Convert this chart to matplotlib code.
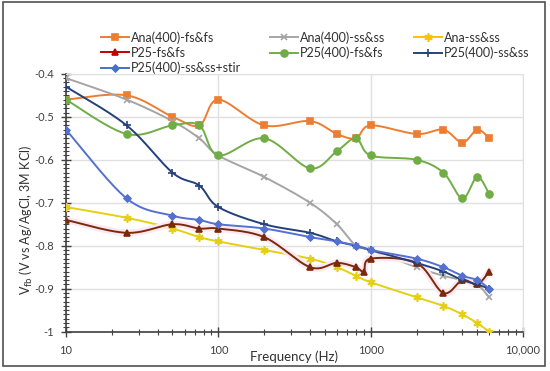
import numpy as np
import matplotlib
import matplotlib.pyplot as plt
from matplotlib.patches import Rectangle
from matplotlib.ticker import FixedLocator, LogLocator, NullFormatter, MultipleLocator
import matplotlib.patheffects as pe

matplotlib.use('Agg')
plt.rcParams['font.family'] = ['Lato', 'DejaVu Sans']

freq = [10, 25, 50, 75, 100, 200, 400, 600, 800, 1000, 2000, 3000, 4000, 5000, 6000]
freq_p25 = [10, 25, 50, 75, 100, 200, 400, 600, 800, 900, 1000, 2000, 3000, 4000, 5000, 6000]

ana400_fs = [-0.46, -0.45, -0.50, -0.52, -0.46, -0.52, -0.51, -0.54, -0.55, -0.52, -0.54, -0.53, -0.56, -0.53, -0.55]
ana400_ss = [-0.41, -0.46, -0.51, -0.55, -0.59, -0.64, -0.70, -0.75, -0.80, -0.81, -0.85, -0.87, -0.88, -0.89, -0.92]
ana_ss = [-0.71, -0.735, -0.76, -0.78, -0.79, -0.81, -0.83, -0.85, -0.87, -0.885, -0.92, -0.94, -0.96, -0.98, -1.0]
p25_fs = [-0.74, -0.77, -0.75, -0.76, -0.76, -0.78, -0.85, -0.84, -0.85, -0.86, -0.83, -0.84, -0.91, -0.88, -0.89, -0.86]
p25_400_fs = [-0.46, -0.54, -0.52, -0.52, -0.59, -0.55, -0.62, -0.58, -0.55, -0.59, -0.60, -0.63, -0.69, -0.64, -0.68]
p25_400_ss = [-0.43, -0.52, -0.63, -0.66, -0.71, -0.75, -0.77, -0.79, -0.80, -0.81, -0.84, -0.86, -0.88, -0.89, -0.90]
p25_400_stir = [-0.53, -0.69, -0.73, -0.74, -0.75, -0.76, -0.78, -0.79, -0.80, -0.81, -0.83, -0.85, -0.87, -0.88, -0.90]

# ratio of pixel scale y / x so the smoothing behaves like Excel's screen-space curves
RATIO = 430 / 152.5


def smooth(xs, ys, n=24):
    P = np.column_stack([np.log10(xs), np.asarray(ys) * RATIO])
    P = np.vstack([P[0], P, P[-1]])
    out = []
    t = np.linspace(0, 1, n, endpoint=False)[:, None]
    for i in range(1, len(P) - 2):
        p0, p1, p2, p3 = P[i - 1], P[i], P[i + 1], P[i + 2]
        c1 = p1 + (p2 - p0) / 6
        c2 = p2 - (p3 - p1) / 6
        out.append((1 - t) ** 3 * p1 + 3 * (1 - t) ** 2 * t * c1 + 3 * (1 - t) * t ** 2 * c2 + t ** 3 * p2)
    out.append(P[-2][None])
    pts = np.vstack(out)
    return 10 ** pts[:, 0], pts[:, 1] / RATIO


fig = plt.figure(figsize=(5.5, 3.71), dpi=100)
ax = fig.add_axes([0.12, 0.106, 0.831, 0.695])

series = [
    ('Ana(400)-fs&fs', freq, ana400_fs, '#ED7D31', 's', 4, '#ED7D31', None),
    ('Ana(400)-ss&ss', freq, ana400_ss, '#A5A5A5', 'x', 5, '#A5A5A5', None),
    ('Ana-ss&ss', freq, ana_ss, '#E6CF12', (6, 2, 0), 6, '#FFC000', None),
    ('P25-fs&fs', freq_p25, p25_fs, '#7A2A08', '^', 5, '#C00000', '#FCE8F2'),
    ('P25(400)-fs&fs', freq, p25_400_fs, '#70AD47', 'o', 5, '#70AD47', None),
    ('P25(400)-ss&ss', freq, p25_400_ss, '#24407A', '+', 6, '#264478', None),
    ('P25(400)-ss&ss+stir', freq, p25_400_stir, '#5470D0', 'D', 3.5, '#4472C4', None),
]

handles = {}
for name, xs, ys, col, mk, ms, legcol, halo in series:
    sx, sy = smooth(xs, ys)
    effects = [pe.Stroke(linewidth=5, foreground=halo), pe.Normal()] if halo else None
    ax.plot(sx, sy, color=col, lw=1.4, zorder=3, path_effects=effects)
    ax.plot(xs, ys, ls='none', marker=mk, ms=ms, color=col, mec=col, mew=1.2, zorder=4)
    handles[name], = ax.plot([], [], color=legcol, lw=1.4, marker=mk, ms=ms, mec=legcol, mew=1.2)

ax.set_xscale('log')
ax.set_xlim(10, 10000)
ax.set_ylim(-1, -0.4)
ax.xaxis.set_major_locator(FixedLocator([10, 100, 1000, 10000]))
ax.set_xticklabels(['10', '100', '1000', '10,000'])
ax.xaxis.set_minor_locator(LogLocator(base=10, subs=np.arange(2, 10)))
ax.xaxis.set_minor_formatter(NullFormatter())
ax.yaxis.set_minor_locator(MultipleLocator(0.01))
yt = np.round(np.arange(-1, -0.39, 0.1), 1)
ax.set_yticks(yt)
ax.set_yticklabels(['{:g}'.format(v) for v in yt])

ax.tick_params(which='major', direction='inout', length=7, width=1, color='#404040', labelsize=8, labelcolor='#404040')
ax.tick_params(axis='x', which='major', pad=6)
ax.tick_params(axis='y', which='major', pad=5)
ax.tick_params(which='minor', direction='inout', length=5, width=0.8, color='#404040')
ax.grid(True, which='major', color='#E0E0E0', lw=1, zorder=0)
for s in ['top', 'right']:
    ax.spines[s].set_color('#E0E0E0')
for s in ['left', 'bottom']:
    ax.spines[s].set_color('#404040')
    ax.spines[s].set_linewidth(1.2)

ax.text(0.499, -0.097, 'Frequency (Hz)', transform=ax.transAxes, ha='center', va='center',
        fontsize=9.5, color='#303030')
ax.set_ylabel('V$_{\\rm fb}$ (V vs Ag/AgCl, 3M KCl)', fontsize=9, color='#303030')
ax.yaxis.set_label_coords(-0.068, 0.433)

order = ['Ana(400)-fs&fs', 'P25-fs&fs', 'P25(400)-ss&ss+stir',
         'Ana(400)-ss&ss', 'P25(400)-fs&fs',
         'Ana-ss&ss', 'P25(400)-ss&ss']
fig.legend([handles[k] for k in order], order, ncol=3, loc='upper left',
           bbox_to_anchor=(0.175, 0.93), frameon=False, fontsize=9,
           handlelength=2.2, handletextpad=0.2, columnspacing=2.3,
           labelspacing=0.25, borderaxespad=0, labelcolor='#303030')

fig.patches.append(Rectangle((3 / 550, 1 - 366 / 371), 542 / 550, 364 / 371,
                             transform=fig.transFigure, fill=False,
                             edgecolor='#505050', lw=1.2))

fig.savefig('out.png', dpi=100)
